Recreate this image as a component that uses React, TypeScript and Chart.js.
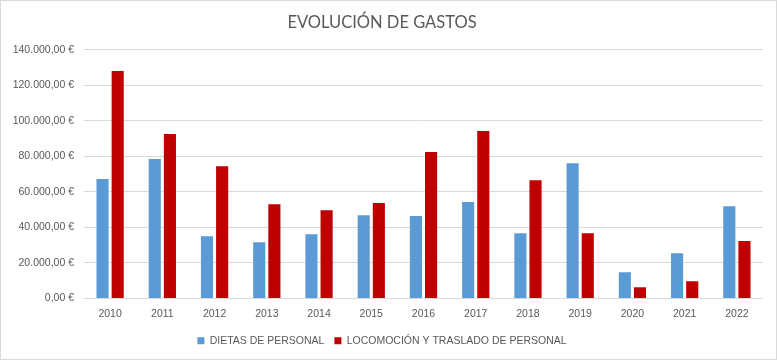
import React, { useEffect, useRef } from "react";
import { Chart, registerables } from "chart.js";

Chart.register(...registerables);

const years = ["2010", "2011", "2012", "2013", "2014", "2015", "2016", "2017", "2018", "2019", "2020", "2021", "2022"];
const dietas = [67200, 78500, 35100, 31700, 36200, 46900, 46400, 54300, 36800, 76200, 14800, 25500, 52000];
const locomocion = [128100, 92600, 74500, 53100, 49700, 53700, 82400, 94300, 66600, 36800, 6400, 9700, 32300];
const seriesNames = ["DIETAS DE PERSONAL", "LOCOMOCIÓN Y TRASLADO DE PERSONAL"];
const titleText = "EVOLUCIÓN DE GASTOS";

function formatEuro(v: number): string {
  const int = Math.round(v).toString().replace(/\B(?=(\d{3})+(?!\d))/g, ".");
  return int + ",00 €";
}

export default function App() {
  const ref = useRef<HTMLCanvasElement>(null);
  useEffect(() => {
    document.body.style.margin = "0";
    const ctx = ref.current!;
    const chart = new Chart(ctx, {
      type: "bar",
      data: {
        labels: years,
        datasets: [
          { label: seriesNames[0], data: dietas, backgroundColor: "#5b9bd5", barPercentage: 0.8, categoryPercentage: 0.58 },
          { label: seriesNames[1], data: locomocion, backgroundColor: "#c00000", barPercentage: 0.8, categoryPercentage: 0.58 },
        ],
      },
      options: {
        animation: false,
        responsive: false,
        maintainAspectRatio: false,
        layout: { padding: { left: 0, right: 13, top: 4, bottom: 3 } },
        plugins: {
          title: {
            display: true,
            text: titleText,
            color: "#595959",
            font: { family: "Lato", size: 16.5, weight: "normal" },
            padding: { top: 8, bottom: 17 },
          },
          legend: {
            position: "bottom",
            labels: {
              color: "#595959",
              font: { family: "Liberation Sans", size: 10.5 },
              boxWidth: 7,
              boxHeight: 7,
              padding: 10,
            },
          },
          tooltip: { enabled: false },
        },
        scales: {
          x: {
            grid: { display: false, drawTicks: false },
            border: { display: false },
            ticks: { color: "#595959", font: { family: "Liberation Sans", size: 10.5 }, padding: 9 },
            afterFit: (s: any) => {
              s.height = 27;
            },
          },
          y: {
            min: 0,
            max: 140000,
            ticks: {
              stepSize: 20000,
              color: "#595959",
              font: { family: "Liberation Sans", size: 10.5 },
              padding: 10,
              callback: (v: any) => formatEuro(Number(v)),
            },
            grid: { color: "#d9d9d9", lineWidth: 1, drawTicks: false },
            border: { display: false },
            afterFit: (s: any) => {
              s.width = 83;
            },
          },
        },
      },
    });
    return () => chart.destroy();
  }, []);
  return (
    <div style={{ width: 777, height: 360, boxSizing: "border-box", border: "1px solid #d9d9d9", background: "#fff" }}>
      <canvas ref={ref} width={775} height={358} style={{ display: "block" }} />
    </div>
  );
}
